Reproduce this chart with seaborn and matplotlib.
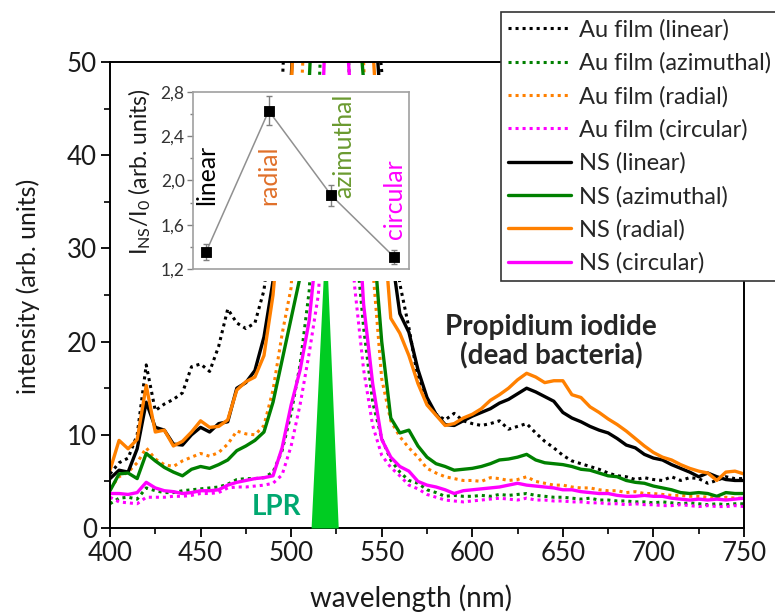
import matplotlib
matplotlib.use("Agg")
import matplotlib.pyplot as plt
import seaborn as sns
from matplotlib.ticker import MultipleLocator, FuncFormatter

# wavelength grid (nm), 5 nm steps
wavelength = list(range(400, 755, 5))

# Au film spectra (dotted)
au_linear = [5.8, 7.0, 7.5, 10.0, 17.5, 12.6, 13.3, 13.8, 14.5, 17.3,
             17.6, 16.8, 19.5, 23.5, 22.0, 21.4, 22.0, 25.5, 34.0, 47.0,
             70, 80, 80, 80, 80, 80, 80, 80, 75, 60,
             49, 35, 26.2, 21.5, 16.0, 13.4, 12.2, 11.6, 12.3, 11.5,
             11.2, 11.0, 11.2, 11.5, 10.6, 10.9, 11.2, 10.2, 9.3, 8.6,
             7.8, 7.2, 6.9, 6.6, 6.3, 5.9, 5.6, 5.5, 5.2, 5.4,
             5.2, 5.1, 5.5, 5.1, 5.4, 5.3, 4.8, 5.1, 5.5, 5.3,
             5.3]
au_azimuthal = [2.6, 3.2, 3.3, 3.1, 4.3, 4.0, 3.8, 3.8, 4.0, 4.1,
                4.2, 4.3, 4.4, 4.7, 5.2, 5.3, 5.3, 5.4, 6.0, 8.3,
                12.3, 17.6, 25.5, 45, 70, 70, 60, 32, 21.5, 13.5,
                9.6, 7.3, 6.0, 5.1, 4.8, 4.1, 3.8, 3.4, 3.5, 3.4,
                3.4, 3.5, 3.4, 3.6, 3.5, 3.6, 3.7, 3.5, 3.4, 3.3,
                3.3, 3.2, 3.1, 3.2, 3.0, 3.0, 2.9, 2.9, 2.8, 2.8,
                2.7, 2.8, 2.7, 2.6, 2.7, 2.6, 2.5, 2.6, 2.5, 2.6,
                2.6]
au_radial = [4.2, 5.5, 6.0, 7.0, 8.6, 7.4, 6.8, 6.6, 7.2, 7.6,
             8.0, 7.7, 8.1, 9.0, 10.4, 10.1, 10.0, 11.0, 14.8, 20.8,
             25.8, 44, 65, 80, 80, 80, 80, 80, 50, 28,
             16, 11.5, 9.8, 8.6, 7.6, 6.4, 5.9, 5.5, 5.3, 5.1,
             5.1, 5.0, 5.4, 5.3, 5.1, 5.2, 5.5, 5.0, 4.8, 4.6,
             4.6, 4.4, 4.3, 4.3, 4.1, 4.0, 4.0, 3.8, 3.9, 3.7,
             3.7, 3.6, 3.5, 3.5, 3.4, 3.4, 3.3, 3.2, 3.3, 3.2,
             3.2]
au_circular = [3.3, 2.8, 2.7, 2.6, 3.3, 3.3, 3.3, 3.4, 3.4, 3.5,
               3.7, 3.7, 3.8, 4.3, 4.4, 4.4, 4.5, 4.6, 4.8, 5.7,
               8.8, 13.3, 18.8, 25.0, 40, 45, 40, 26, 17, 11.0,
               7.8, 6.5, 5.6, 4.6, 4.2, 3.6, 3.3, 3.0, 2.9, 2.8,
               2.9, 3.0, 3.1, 3.2, 3.1, 3.0, 3.2, 3.0, 3.0, 2.9,
               2.9, 2.8, 2.8, 2.7, 2.7, 2.6, 2.6, 2.5, 2.6, 2.5,
               2.5, 2.4, 2.4, 2.5, 2.4, 2.3, 2.4, 2.3, 2.3, 2.4,
               2.3]

# nanostructure (NS) spectra (solid)
ns_linear = [5.3, 6.2, 6.0, 8.5, 13.5, 10.8, 10.5, 9.0, 8.9, 10.0,
             10.8, 10.3, 11.2, 11.4, 15.0, 15.6, 16.9, 20.5, 26.5, 38.0,
             48, 70, 80, 80, 80, 80, 80, 80, 75, 58,
             44, 30, 23.0, 21.0, 17.0, 14.0, 12.2, 11.1, 11.0, 11.5,
             12.0, 12.4, 12.8, 13.4, 13.8, 14.4, 15.0, 14.6, 14.1, 13.6,
             12.4, 11.8, 11.4, 10.9, 10.5, 10.2, 9.6, 8.9, 8.6, 7.9,
             7.5, 7.3, 6.8, 6.4, 6.0, 5.5, 5.9, 5.5, 5.2, 5.1,
             5.1]
ns_azimuthal = [4.0, 5.8, 5.9, 5.3, 8.0, 7.2, 6.5, 6.0, 5.6, 6.3,
                6.6, 6.4, 6.8, 7.3, 8.3, 8.8, 9.4, 10.3, 13.5, 18.0,
                22.5, 27, 48, 70, 80, 80, 70, 60, 48, 32,
                20, 11.8, 10.2, 10.5, 8.8, 7.6, 6.9, 6.6, 6.2, 6.3,
                6.4, 6.6, 6.9, 7.3, 7.4, 7.6, 7.9, 7.3, 7.0, 6.9,
                6.8, 6.6, 6.3, 6.2, 5.9, 5.6, 5.5, 5.1, 4.9, 4.8,
                4.5, 4.3, 4.1, 3.8, 3.7, 3.8, 3.7, 3.4, 3.8, 3.7,
                3.7]
ns_radial = [6.2, 9.4, 8.5, 9.5, 15.3, 10.3, 10.5, 8.8, 9.3, 10.3,
             11.5, 10.8, 10.9, 11.6, 14.8, 15.7, 16.2, 18.5, 25.0, 36.0,
             47, 70, 80, 80, 80, 80, 80, 80, 70, 52,
             35, 22.5, 20.9, 18.5, 15.5, 13.2, 12.1, 11.0, 11.2, 11.8,
             12.2, 12.8, 13.7, 14.3, 15.0, 15.9, 16.6, 16.2, 15.6, 15.8,
             15.8, 14.3, 14.0, 13.0, 12.4, 11.7, 11.1, 10.4, 9.6, 8.8,
             8.1, 7.6, 7.3, 6.8, 6.4, 6.1, 5.9, 5.1, 6.0, 6.1,
             5.8]
ns_circular = [3.7, 3.7, 3.6, 3.8, 4.9, 4.3, 4.0, 3.9, 3.7, 3.8,
               4.0, 4.0, 4.1, 4.6, 4.9, 5.1, 5.3, 5.4, 5.6, 8.6,
               13.2, 17.0, 22.3, 32, 60, 70, 55, 40, 24, 15.5,
               9.5, 7.6, 6.6, 6.1, 5.0, 4.6, 4.4, 4.1, 3.7, 4.0,
               4.1, 4.2, 4.3, 4.4, 4.6, 4.8, 4.6, 4.5, 4.4, 4.3,
               4.1, 4.1, 3.9, 3.8, 3.7, 3.7, 3.5, 3.4, 3.4, 3.5,
               3.4, 3.4, 3.2, 3.1, 3.0, 3.1, 3.0, 3.1, 3.0, 3.1,
               3.2]

# laser plasmon resonance marker (triangle)
lpr_x = [511, 519, 526]
lpr_y = [0, 32, 0]

# inset: enhancement ratio
inset_labels = ["linear", "radial", "azimuthal", "circular"]
inset_ratio = [1.355, 2.63, 1.865, 1.31]
inset_err = [0.07, 0.13, 0.095, 0.065]

BLACK, GREEN, ORANGE, MAGENTA = "#000000", "#008000", "#ff8000", "#ff00ff"

series = [
    ("Au film (linear)", au_linear, BLACK, "dot"),
    ("Au film (azimuthal)", au_azimuthal, GREEN, "dot"),
    ("Au film (radial)", au_radial, ORANGE, "dot"),
    ("Au film (circular)", au_circular, MAGENTA, "dot"),
    ("NS (linear)", ns_linear, BLACK, "solid"),
    ("NS (azimuthal)", ns_azimuthal, GREEN, "solid"),
    ("NS (radial)", ns_radial, ORANGE, "solid"),
    ("NS (circular)", ns_circular, MAGENTA, "solid"),
]

sns.set_theme(style="ticks")
plt.rcParams["font.family"] = ["Lato", "DejaVu Sans"]
plt.rcParams["mathtext.default"] = "regular"

W, H = 775, 616
fig = plt.figure(figsize=(W / 100, H / 100), dpi=100)
ax = fig.add_axes([110 / W, 1 - 528 / H, 634 / W, 466 / H])

for label, vals, color, kind in series:
    if kind == "dot":
        sns.lineplot(x=wavelength, y=vals, ax=ax, color=color, label=label,
                     linewidth=2.2, linestyle=(0, (1, 1.3)), errorbar=None)
    else:
        sns.lineplot(x=wavelength, y=vals, ax=ax, color=color, label=label,
                     linewidth=2.4, errorbar=None)

ax.fill_between(lpr_x, 0, lpr_y, color="#00cc22", linewidth=0, zorder=5)
ax.text(491.8, 2.2, "LPR", color="#00a870", fontsize=20, fontweight="bold",
        ha="center", va="center")
ax.text(643.5, 20.0, "Propidium iodide\n(dead bacteria)", fontsize=20,
        fontweight="bold", ha="center", va="center", linespacing=1.1)

ax.set_xlim(400, 750)
ax.set_ylim(0, 50)
ax.xaxis.set_major_locator(MultipleLocator(50))
ax.xaxis.set_minor_locator(MultipleLocator(25))
ax.yaxis.set_major_locator(MultipleLocator(10))
ax.yaxis.set_minor_locator(MultipleLocator(5))
ax.tick_params(which="major", direction="out", length=6.5, width=1.3, pad=3,
               labelsize=18.6, colors="#000000", labelcolor="#1a1a1a")
ax.tick_params(which="minor", direction="out", length=4, width=1.2, colors="#000000")
for sp in ax.spines.values():
    sp.set_visible(True)
    sp.set_linewidth(1.4)
    sp.set_color("#000000")
ax.set_xlabel("wavelength (nm)", fontsize=20, color="#1a1a1a")
ax.set_ylabel("intensity (arb. units)", fontsize=18, color="#1a1a1a")
ax.xaxis.set_label_coords((411 - 110) / 634, -(598 - 528) / 466)
ax.yaxis.set_label_coords(-(110 - 28) / 634, (528 - 286) / 466)
ax.xaxis.label.set_va("center")
ax.yaxis.label.set_va("center")

handles, labels = ax.get_legend_handles_labels()
ax.get_legend().remove()
leg = fig.legend(handles, labels, loc="upper left",
                 bbox_to_anchor=(501 / W, 1 - 12 / H), fontsize=17,
                 frameon=True, fancybox=False, edgecolor="#333333", framealpha=1,
                 labelspacing=0.5, handlelength=2.65, handletextpad=0.35,
                 borderpad=0.3, borderaxespad=0)
leg.get_frame().set_linewidth(1.2)

# white backdrop of the pasted inset (hides the curves behind it)
bg = fig.add_axes([135 / W, 1 - 281 / H, 277 / W, 206 / H])
bg.set_facecolor("white")
bg.set_xticks([])
bg.set_yticks([])
for sp in bg.spines.values():
    sp.set_visible(False)

# inset
ins = fig.add_axes([193 / W, 1 - 269 / H, 216 / W, 177 / H])
ins.set_facecolor("white")
pos = list(range(len(inset_labels)))
sns.lineplot(x=pos, y=inset_ratio, ax=ins, color="#909090", linewidth=1.1,
             errorbar=None, zorder=2)
ins.errorbar(pos, inset_ratio, yerr=inset_err, fmt="none", ecolor="#808080",
             elinewidth=1, capsize=2.5, zorder=3)
sns.scatterplot(x=pos, y=inset_ratio, ax=ins, marker="s", color="black",
                s=60, edgecolor="black", zorder=4)
ins.set_xlim(-0.21, 3.24)
ins.set_ylim(1.2, 2.8)
ins.yaxis.set_major_locator(MultipleLocator(0.4))
ins.yaxis.set_minor_locator(MultipleLocator(0.2))
ins.yaxis.set_major_formatter(FuncFormatter(lambda v, p: f"{v:.1f}".replace(".", ",")))
ins.set_xticks([])
ins.tick_params(axis="y", which="major", direction="out", length=4, width=1,
                labelsize=12.5, colors="#808080", labelcolor="#333333", pad=2)
ins.tick_params(axis="y", which="minor", direction="out", length=2.5, width=1,
                colors="#808080")
for sp in ins.spines.values():
    sp.set_visible(True)
    sp.set_color("#a0a0a0")
    sp.set_linewidth(1.2)
ins.set_ylabel("I$_{NS}$/I$_{0}$ (arb. units)", fontsize=16.5, color="#1a1a1a")
ins.yaxis.set_label_coords(-(193 - 140) / 216, (269 - 172) / 177)
ins.yaxis.label.set_va("center")

label_pos = [(0.0, 2.05, "#000000"), (1.0, 2.05, "#e0702a"),
             (2.2, 2.31, "#6a9a30"), (3.01, 1.83, "#ff00ff")]
for name, (lx, ly, lc) in zip(inset_labels, label_pos):
    ins.text(lx, ly, name, rotation=90, ha="center", va="center",
             fontsize=17.8, color=lc)

fig.savefig("out.png", dpi=100)
